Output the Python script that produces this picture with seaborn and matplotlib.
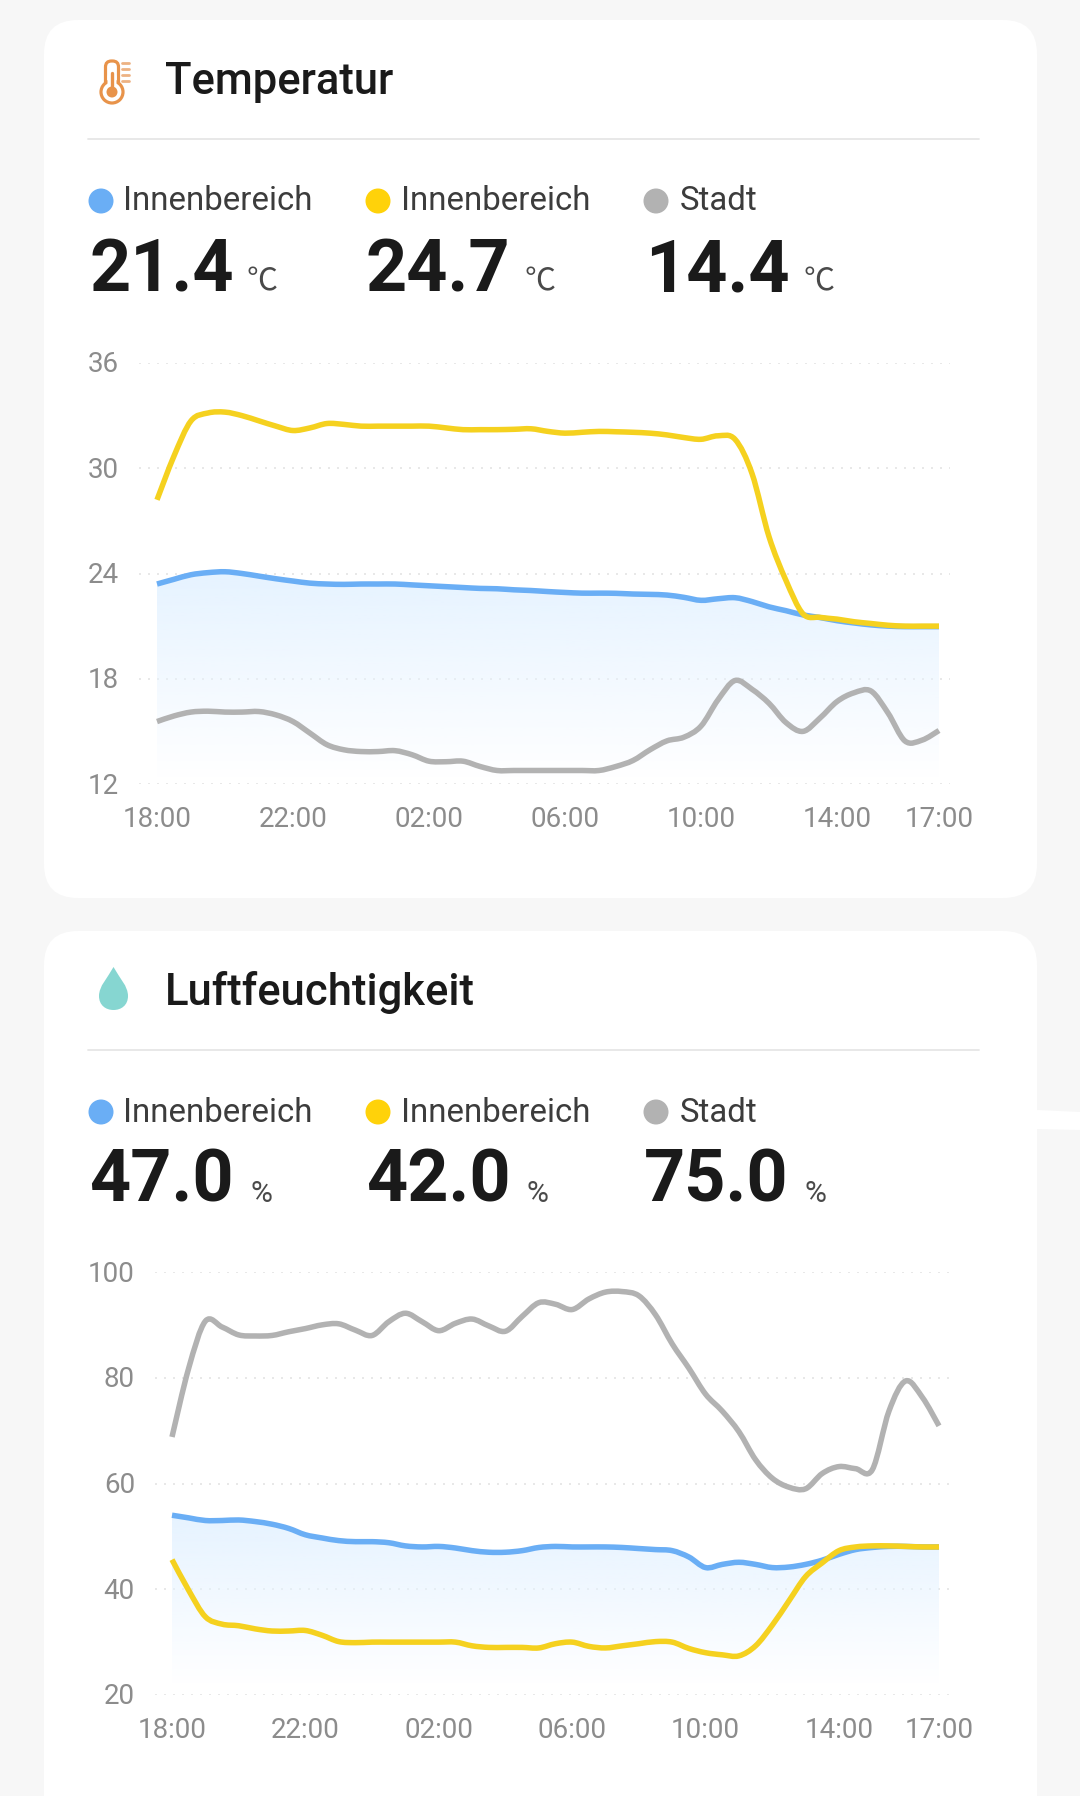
import numpy as np
import pandas as pd
import matplotlib
matplotlib.use("Agg")
import matplotlib.pyplot as plt
from matplotlib.patches import FancyBboxPatch, Circle, PathPatch, Polygon
from matplotlib.path import Path
from matplotlib.patheffects import AbstractPathEffect
from matplotlib.transforms import ScaledTranslation
import seaborn as sns

# ---- data (half-hour steps) ----
hours = [i / 2 for i in range(47)]
tick_hours = [0, 4, 8, 12, 16, 20, 23]
tick_labels = ["18:00", "22:00", "02:00", "06:00", "10:00", "14:00", "17:00"]

temp_blue = [23.4, 23.67, 23.93, 24.05, 24.1, 24.0, 23.85, 23.7, 23.57, 23.45, 23.4, 23.38,
             23.4, 23.4, 23.4, 23.35, 23.3, 23.25, 23.2, 23.15, 23.13, 23.07, 23.03, 22.97,
             22.92, 22.88, 22.88, 22.87, 22.83, 22.81, 22.77, 22.64, 22.47, 22.56, 22.62, 22.4,
             22.1, 21.88, 21.64, 21.49, 21.31, 21.18, 21.07, 21.0, 20.97, 20.97, 20.97]
temp_gold = [28.2, 30.7, 32.7, 33.15, 33.2, 33.0, 32.7, 32.4, 32.15, 32.3, 32.55, 32.5,
             32.4, 32.4, 32.4, 32.4, 32.4, 32.3, 32.2, 32.2, 32.2, 32.22, 32.25, 32.1,
             32.0, 32.05, 32.1, 32.08, 32.05, 32.0, 31.9, 31.75, 31.65, 31.85, 31.65, 29.7,
             26.1, 23.6, 21.7, 21.5, 21.4, 21.25, 21.15, 21.05, 21.0, 21.0, 21.0]
temp_gray = [15.56, 15.88, 16.1, 16.15, 16.1, 16.1, 16.13, 15.94, 15.56, 14.9, 14.24, 13.95,
             13.85, 13.85, 13.9, 13.67, 13.3, 13.27, 13.3, 13.0, 12.77, 12.77, 12.77, 12.77,
             12.77, 12.77, 12.77, 13.0, 13.34, 13.95, 14.46, 14.67, 15.3, 16.8, 17.9, 17.4,
             16.6, 15.5, 15.0, 15.76, 16.7, 17.2, 17.3, 16.05, 14.45, 14.5, 15.05]

hum_blue = [54.0, 53.5, 53.0, 53.0, 53.1, 52.8, 52.3, 51.5, 50.3, 49.7, 49.2, 49.0,
            49.0, 48.8, 48.2, 48.0, 48.1, 47.8, 47.3, 47.0, 47.0, 47.3, 47.9, 48.1,
            48.0, 48.0, 48.0, 47.9, 47.7, 47.5, 47.3, 46.1, 44.1, 44.7, 45.1, 44.7,
            44.1, 44.2, 44.7, 45.5, 46.6, 47.5, 47.9, 48.1, 48.1, 48.0, 48.0]
hum_gold = [45.6, 39.8, 34.8, 33.4, 33.1, 32.5, 32.1, 32.1, 32.2, 31.3, 30.1, 29.9,
            30.0, 30.0, 30.0, 30.0, 30.0, 30.0, 29.3, 29.0, 29.0, 29.0, 28.9, 29.7,
            30.0, 29.2, 28.9, 29.3, 29.7, 30.1, 30.0, 28.8, 28.0, 27.6, 27.4, 29.3,
            33.2, 37.8, 42.4, 45.0, 47.3, 48.0, 48.2, 48.2, 48.1, 48.0, 48.0]
hum_gray = [68.8, 81.8, 90.7, 89.6, 88.1, 87.9, 88.0, 88.7, 89.3, 90.0, 90.2, 89.0,
            88.0, 90.6, 92.2, 90.6, 88.9, 90.3, 91.1, 89.8, 88.8, 91.6, 94.2, 93.9,
            92.9, 94.9, 96.2, 96.3, 95.5, 91.9, 86.4, 81.8, 76.9, 73.7, 69.8, 64.5,
            61.0, 59.3, 59.0, 61.9, 63.2, 62.8, 62.6, 73.7, 79.4, 76.3, 70.9]

series_names = ["Innenbereich", "Innenbereich", "Stadt"]
temp_values = ["21.4", "24.7", "14.4"]
hum_values = ["47.0", "42.0", "75.0"]
temp_ticks = [12, 18, 24, 30, 36]
hum_ticks = [20, 40, 60, 80, 100]

BLUE, GOLD, GRAY = "#6AAEF5", "#F5D11F", "#B2B2B2"
DOT_GOLD = "#FFD20A"
W, H = 1080, 1796
DPI = 100


def pt(px):
    return px * 72 / DPI


class SmoothStroke(AbstractPathEffect):
    """Strokes the line's own vertices as a curve (Catmull-Rom handles)."""

    def draw_path(self, renderer, gc, tpath, affine, rgbFace=None):
        p = np.asarray(tpath.vertices)
        if len(p) < 3:
            renderer.draw_path(gc, tpath, affine, rgbFace)
            return
        q = np.vstack([p[0], p, p[-1]])
        verts, codes = [p[0]], [Path.MOVETO]
        for i in range(1, len(q) - 2):
            verts += [q[i] + (q[i + 1] - q[i - 1]) / 6, q[i + 1] - (q[i + 2] - q[i]) / 6, q[i + 1]]
            codes += [Path.CURVE4] * 3
        renderer.draw_path(gc, Path(np.array(verts), codes), affine, None)


sns.set_theme(style="white")
plt.rcParams["font.family"] = ["Roboto", "Noto Sans CJK SC", "DejaVu Sans"]

fig = plt.figure(figsize=(W / DPI, H / DPI), dpi=DPI, facecolor="#F7F7F7")
bg = fig.add_axes([0, 0, 1, 1], zorder=0)
bg.set_xlim(0, W)
bg.set_ylim(H, 0)
bg.axis("off")


def card(top, bottom):
    r = 34
    bg.add_patch(FancyBboxPatch((44 + r, top + r), 993 - 2 * r, bottom - top - 2 * r,
                                boxstyle=f"round,pad={r},rounding_size={r}",
                                fc="white", ec="none"))


def thermometer(cx):
    c = "#E8934A"
    bg.add_patch(FancyBboxPatch((cx - 4.5, 63), 9, 24, boxstyle="round,pad=2,rounding_size=6",
                                fc="white", ec=c, lw=2.3, zorder=3))
    bg.add_patch(Circle((cx, 92), 11, fc="white", ec=c, lw=2.3, zorder=3))
    bg.add_patch(FancyBboxPatch((cx - 4.5, 75), 9, 14, boxstyle="round,pad=0,rounding_size=1",
                                fc="white", ec="none", zorder=4))
    bg.add_patch(Circle((cx, 92), 5.5, fc=c, ec="none", zorder=5))
    bg.plot([cx, cx], [73, 90], color=c, lw=2.4, zorder=5)
    for ty in (63, 69, 75, 81):
        bg.plot([122, 129], [ty, ty], color="#EDB283", lw=2.0, zorder=3)


def droplet(cx, cy):
    v = [(cx, cy - 22), (cx + 6, cy - 11), (cx + 14.5, cy - 3), (cx + 14.5, cy + 7),
         (cx + 14.5, cy + 16), (cx + 8, cy + 21), (cx, cy + 21),
         (cx - 8, cy + 21), (cx - 14.5, cy + 16), (cx - 14.5, cy + 7),
         (cx - 14.5, cy - 3), (cx - 6, cy - 11), (cx, cy - 22)]
    codes = [Path.MOVETO] + [Path.CURVE4] * 12
    bg.add_patch(PathPatch(Path(v, codes), fc="#86D6D1", ec="none", zorder=3))


def header(title, ty, divider_y, legend_y, value_y, values, unit, unit_x, unit_size, unit_dy, value_x):
    bg.text(165, ty, title, fontsize=pt(43.6), fontweight="medium", color="#1A1A1A", va="center", ha="left")
    bg.plot([88, 979], [divider_y, divider_y], color="#E6E6E6", lw=1.3)
    for dx, tx, col, name in zip([101, 378, 656], [123.5, 401.5, 680], [BLUE, DOT_GOLD, GRAY], series_names):
        bg.add_patch(Circle((dx, legend_y + 2), 12.5, fc=col, ec="none"))
        bg.text(tx, legend_y + 2.5, name, fontsize=pt(33), color="#3C3C3C", va="center", ha="left")
    for vx, ux, val in zip(value_x, unit_x, values):
        bg.text(vx, value_y, val, fontsize=pt(72), fontweight="bold", color="#1A1A1A", va="baseline", ha="left")
        bg.text(ux, value_y - unit_dy, unit, fontsize=pt(unit_size), color="#4A4A4A", va="baseline", ha="left")


def chart(left, right, top, bottom, x0, x1, ylim, yticks, blue, gold, gray, fade_bottom):
    ax = fig.add_axes([left / W, 1 - bottom / H, (right - left) / W, (bottom - top) / H], zorder=2)
    ax.patch.set_alpha(0)
    per_hour = (x1 - x0) / 23
    xlim = ((left - x0) / per_hour, (right - x0) / per_hour)

    df = pd.DataFrame({"hour": hours * 3,
                       "value": blue + gray + gold,
                       "series": ["blue"] * 47 + ["gray"] * 47 + ["gold"] * 47})
    # soft gradient under the blue series
    poly = ax.fill_between(hours, blue, fade_bottom, color="none", lw=0)
    top_val = max(blue)
    rgba = np.ones((128, 1, 4))
    rgba[:, 0, 0:3] = matplotlib.colors.to_rgb("#E6F3FF")
    rgba[:, 0, 3] = np.linspace(1, 0, 128)
    im = ax.imshow(rgba, extent=(0, 23, fade_bottom, top_val), aspect="auto", origin="upper", zorder=1)
    im.set_clip_path(poly.get_paths()[0], transform=ax.transData)

    sns.lineplot(data=df, x="hour", y="value", hue="series",
                 palette={"blue": BLUE, "gray": GRAY, "gold": GOLD},
                 hue_order=["blue", "gray", "gold"], errorbar=None, legend=False,
                 linewidth=pt(5.5), ax=ax, zorder=3)
    for ln in ax.get_lines():
        ln.set_solid_joinstyle("round")
        ln.set_solid_capstyle("butt")
        ln.set_path_effects([SmoothStroke()])

    ax.set_xlim(*xlim)
    ax.set_ylim(*ylim)
    ax.set_xticks(tick_hours, tick_labels)
    ax.set_yticks(yticks)
    ax.set_xlabel("")
    ax.set_ylabel("")
    ax.tick_params(axis="both", length=0, labelsize=pt(27.8), labelcolor="#8C8C8C")
    ax.tick_params(axis="x", pad=pt(22))
    ax.tick_params(axis="y", pad=pt(20))
    shift = ScaledTranslation(0, 1.0 / DPI, fig.dpi_scale_trans)
    for lab in ax.get_yticklabels():
        lab.set_transform(lab.get_transform() + shift)
    ax.grid(axis="y", color="#E8E8E8", lw=pt(2), linestyle=(0, (1, 3.5)))
    ax.grid(axis="x", visible=False)
    ax.set_axisbelow(True)
    for s in ax.spines.values():
        s.set_visible(False)
    return ax


card(20, 898)
card(931, 1900)
bg.add_patch(Polygon([(1037, 1110), (1080, 1112), (1080, 1130), (1037, 1129)], fc="white", ec="none"))

thermometer(112)
droplet(113.5, 989)

header("Temperatur", 82, 139, 199, 292, temp_values, "℃", [247, 525, 804], 31, 2, [89, 366, 645])
header("Luftfeuchtigkeit", 993, 1050, 1110, 1202, hum_values, "%", [250, 527, 805], 30, 0, [89, 366, 644])

chart(139, 950, 363, 784, 157, 939, (12, 36), temp_ticks, temp_blue, temp_gold, temp_gray, 12.3)
chart(155, 950, 1272, 1695, 172, 939, (20, 100), hum_ticks, hum_blue, hum_gold, hum_gray, 22)

fig.savefig("out.png", dpi=DPI, facecolor=fig.get_facecolor())
